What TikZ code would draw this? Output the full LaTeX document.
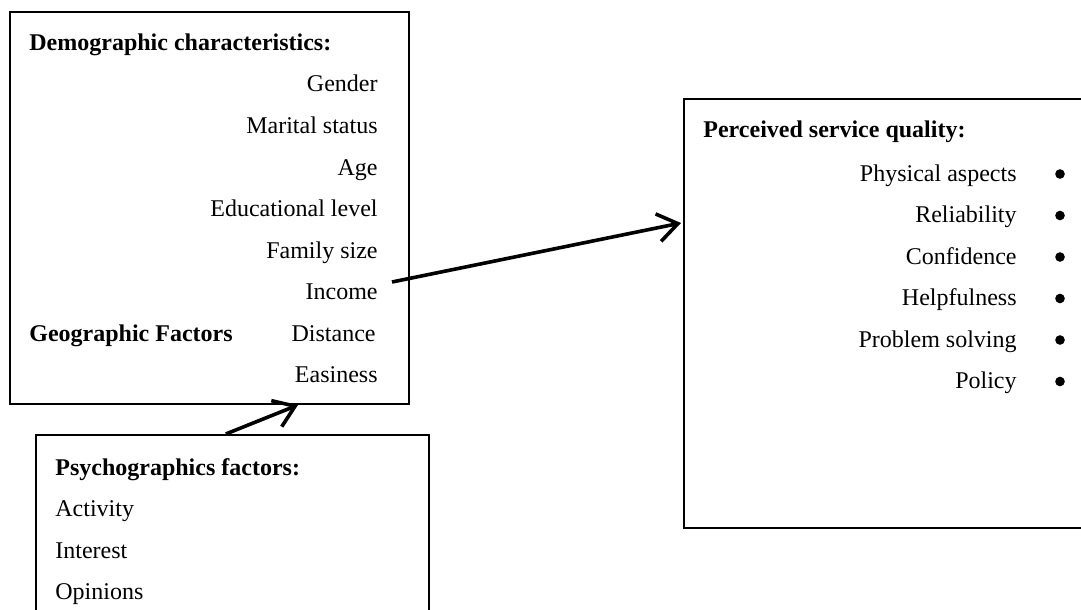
\documentclass[tikz,border=0pt]{standalone}
\usepackage{fontspec}
\setmainfont{Liberation Serif}
\usetikzlibrary{arrows.meta, positioning}

\begin{document}
\begin{tikzpicture}[x=0.5pt, y=-0.5pt, node distance=20.75pt,
    box/.style={rectangle, draw, line width=0.8pt, anchor=north west, inner sep=0pt},
    head/.style={font=\fontsize{12}{14}\selectfont\bfseries, anchor=base west, inner sep=0pt},
    item/.style={font=\fontsize{12}{14}\selectfont, anchor=base east, inner sep=0pt},
    dot/.style={circle, fill, inner sep=1.7pt},
    link/.style={line width=1.8pt, -{Straight Barb[length=10pt, width=14pt]}}]
        \useasboundingbox (0,0) rectangle (1081,610);
        \clip (0,0) rectangle (1081,610);
        % boxes
        \node[box, minimum width=199.5pt, minimum height=196pt] (demog) at (9,11) {};
        \node[box, minimum width=196.5pt, minimum height=120pt] (psych) at (35,434) {};
        \node[box, minimum width=210pt, minimum height=214.5pt] (quality) at (683,98) {};

        % demographic box
        \node[head] (demhead) at (29,51) {Demographic characteristics:};
        \node[item] (gender) at (378,92) {Gender};
        \node (marital) [below=of gender.base east, item] {Marital status};
        \node (age) [below=of marital.base east, item] {Age};
        \node (edu) [below=of age.base east, item] {Educational level};
        \node (family) [below=of edu.base east, item] {Family size};
        \node (income) [below=of family.base east, item] {Income};
        \node (distance) [below=of income.base east, item, xshift=-1pt] {Distance};
        \node (easiness) [below=of income.base east, item, yshift=-20.75pt] {Easiness};
        \node[head] (geo) at (demhead.base west |- distance.base) {Geographic Factors};

        % psychographic box
        \node[head] (psyhead) at (55,475) {Psychographics factors:};
        \node (activity) [below=of psyhead.base west, item, anchor=base west] {Activity};
        \node (interest) [below=of activity.base west, item, anchor=base west] {Interest};
        \node (opinions) [below=of interest.base west, item, anchor=base west] {Opinions};

        % service quality box
        \node[head] (qhead) at (703,138) {Perceived service quality:};
        \node[item] (phys) at (1017,181) {Physical aspects};
        \node (reli) [below=of phys.base east, item] {Reliability};
        \node (conf) [below=of reli.base east, item] {Confidence};
        \node (help) [below=of conf.base east, item] {Helpfulness};
        \node (prob) [below=of help.base east, item] {Problem solving};
        \node (policy) [below=of prob.base east, item] {Policy};
        \node[dot] (d1) at ([xshift=21.5pt, yshift=3.5pt]phys.base east) {};
        \node[dot] (d2) at ([xshift=21.5pt, yshift=3.5pt]reli.base east) {};
        \node[dot] (d3) at ([xshift=21.5pt, yshift=3.5pt]conf.base east) {};
        \node[dot] (d4) at ([xshift=21.5pt, yshift=3.5pt]help.base east) {};
        \node[dot] (d5) at ([xshift=21.5pt, yshift=3.5pt]prob.base east) {};
        \node[dot] (d6) at ([xshift=21.5pt, yshift=3.5pt]policy.base east) {};

        % arrows
        \coordinate (incout) at (392,282);
        \coordinate (qin) at (681,223);
        \coordinate (psyout) at ([xshift=-3.25pt]psych.north);
        \coordinate (demin) at (298,405);
        \path (incout) edge[link] (qin);
        \path (psyout) edge[link] (demin);
\end{tikzpicture}
\end{document}
